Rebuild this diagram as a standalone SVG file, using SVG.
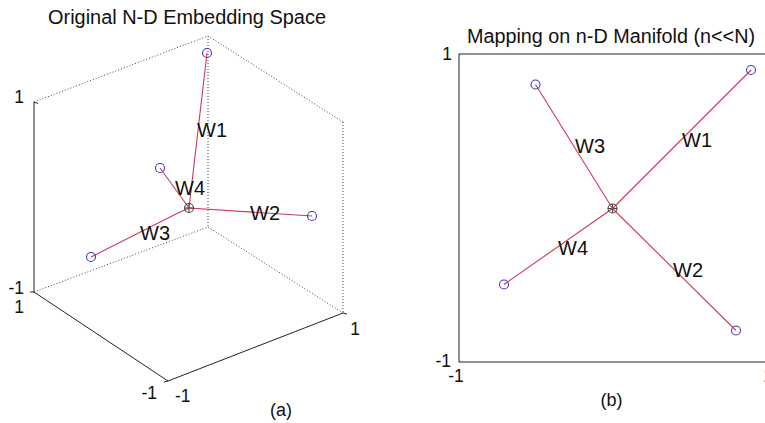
<svg xmlns="http://www.w3.org/2000/svg" width="765" height="423" viewBox="0 0 765 423">
<style>
text{font-family:"Liberation Sans",Arial,sans-serif;fill:#111}
.title{font-size:19.5px;text-anchor:middle}
.lbl{font-size:20px}
.tick{font-size:17.5px}
.cap{font-size:18px;text-anchor:middle}
.ax{stroke:#222;stroke-width:1;fill:none}
.dot{stroke:#444;stroke-width:1;stroke-dasharray:1 2;fill:none}
.edge{stroke:#cc3a55;stroke-width:1.1;fill:none}
.pt{stroke:#3a3acc;stroke-width:1.1;fill:none}
.ctr{stroke:#444;stroke-width:1.1;fill:none}
</style>
<rect width="765" height="423" fill="#fff"/>

<g id="panel-a">
<text class="title" x="187" y="24" textLength="278" lengthAdjust="spacingAndGlyphs">Original N-D Embedding Space</text>
<g id="axes-a">
<path class="dot" d="M34,102 L208,36 L343,122 M208,36 L208,227 M343,122 L343,313 M34,292 L208,227 L343,313"/>
<path class="ax" d="M34,102 L34,292 L168,381 L343,313"/>
<path class="ax" d="M34,102 l4,1.5 M34,292 l-4,0 M168,381 l-4,1 M343,313 l4,1"/>
<text class="tick" x="24" y="103" text-anchor="end">1</text>
<text class="tick" x="24" y="294" text-anchor="end">-1</text>
<text class="tick" x="24" y="313" text-anchor="end">1</text>
<text class="tick" x="355" y="335" text-anchor="middle">1</text>
<text class="tick" x="157" y="399" text-anchor="end">-1</text>
<text class="tick" x="175" y="402">-1</text>
<text class="cap" x="281" y="416">(a)</text>
</g>
<g id="connectors-a">
<line class="edge" x1="189" y1="208" x2="207" y2="53"/>
<line class="edge" x1="189" y1="208" x2="312" y2="216"/>
<polyline class="edge" points="189,208 177,213.5 91,257"/>
<line class="edge" x1="189" y1="208" x2="160" y2="168"/>
</g>
<g id="a-center"><circle class="ctr" cx="189" cy="208" r="4.5"/><path class="ctr" d="M184.5,208 h9 M189,203.5 v9"/><circle cx="189" cy="208" r="1" fill="#cc3a55"/></g>
<g id="a-w1"><circle class="pt" cx="207" cy="53" r="4.5"/><text class="lbl" x="197" y="137">W1</text></g>
<g id="a-w2"><circle class="pt" cx="312" cy="216" r="4.5"/><text class="lbl" x="250" y="220">W2</text></g>
<g id="a-w3"><circle class="pt" cx="91" cy="257" r="4.5"/><text class="lbl" x="140" y="240">W3</text></g>
<g id="a-w4"><circle class="pt" cx="160" cy="168" r="4.5"/><text class="lbl" x="175" y="195">W4</text></g>
</g>

<g id="panel-b">
<text class="title" x="611" y="43" textLength="288" lengthAdjust="spacingAndGlyphs">Mapping on n-D Manifold (n&lt;&lt;N)</text>
<g id="axes-b">
<rect class="ax" x="459" y="54" width="311" height="308"/>
<text class="tick" x="452" y="60" text-anchor="end">1</text>
<text class="tick" x="451" y="367" text-anchor="end">-1</text>
<text class="tick" x="456" y="382" text-anchor="middle">-1</text>
<text class="tick" x="768" y="382" text-anchor="middle">1</text>
<text class="cap" x="611.5" y="406">(b)</text>
</g>
<g id="connectors-b">
<line class="edge" x1="612.5" y1="208.5" x2="751" y2="70"/>
<line class="edge" x1="612.5" y1="208.5" x2="535.5" y2="84.5"/>
<line class="edge" x1="612.5" y1="208.5" x2="504" y2="284.5"/>
<line class="edge" x1="612.5" y1="208.5" x2="736" y2="330.5"/>
</g>
<g id="b-center"><circle class="ctr" cx="612.5" cy="208.5" r="4.5"/><path class="ctr" d="M608,208.5 h9 M612.5,204 v9"/><circle cx="612.5" cy="208.5" r="1" fill="#cc3a55"/></g>
<g id="b-w1"><circle class="pt" cx="751" cy="70" r="4.5"/><text class="lbl" x="682" y="147">W1</text></g>
<g id="b-w2"><circle class="pt" cx="736" cy="330.5" r="4.5"/><text class="lbl" x="673" y="277">W2</text></g>
<g id="b-w3"><circle class="pt" cx="535.5" cy="84.5" r="4.5"/><text class="lbl" x="575" y="153">W3</text></g>
<g id="b-w4"><circle class="pt" cx="504" cy="284.5" r="4.5"/><text class="lbl" x="558" y="255">W4</text></g>
</g>
</svg>
